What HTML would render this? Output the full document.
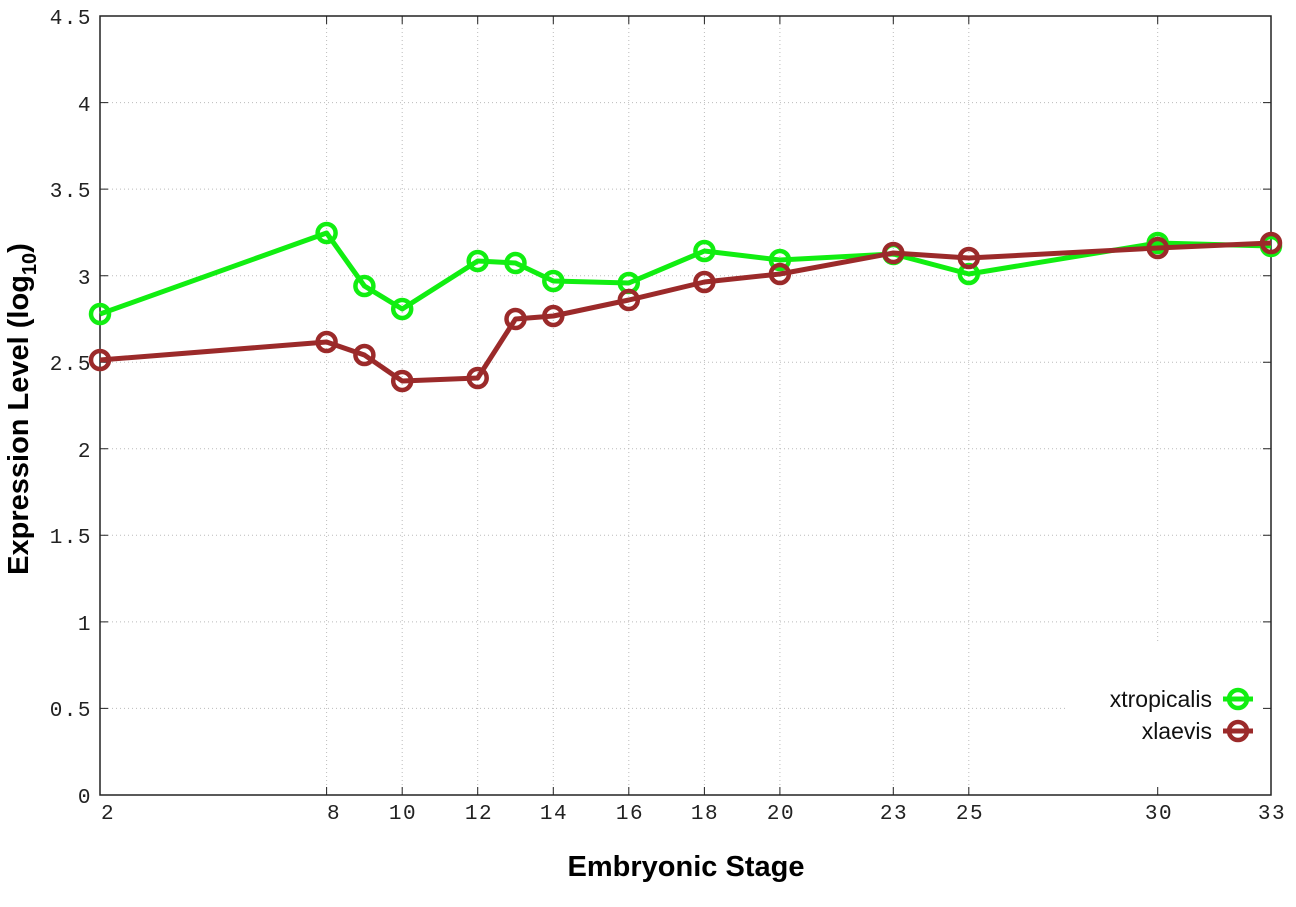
<!DOCTYPE html>
<html><head><style>body{margin:0;background:#fff}svg{display:block}</style></head><body>
<svg width="1296" height="907" xmlns="http://www.w3.org/2000/svg">
<g stroke="#bbb" stroke-width="1" stroke-dasharray="1,3">
<line x1="100" x2="1271" y1="708.4" y2="708.4"/><line x1="100" x2="1271" y1="621.9" y2="621.9"/>
<line x1="100" x2="1271" y1="535.3" y2="535.3"/><line x1="100" x2="1271" y1="448.8" y2="448.8"/>
<line x1="100" x2="1271" y1="362.2" y2="362.2"/><line x1="100" x2="1271" y1="275.7" y2="275.7"/>
<line x1="100" x2="1271" y1="189.1" y2="189.1"/><line x1="100" x2="1271" y1="102.6" y2="102.6"/>
<line x1="326.6" x2="326.6" y1="16" y2="795"/><line x1="402.2" x2="402.2" y1="16" y2="795"/>
<line x1="477.7" x2="477.7" y1="16" y2="795"/><line x1="553.3" x2="553.3" y1="16" y2="795"/>
<line x1="628.8" x2="628.8" y1="16" y2="795"/><line x1="704.4" x2="704.4" y1="16" y2="795"/>
<line x1="779.9" x2="779.9" y1="16" y2="795"/><line x1="893.3" x2="893.3" y1="16" y2="795"/>
<line x1="968.8" x2="968.8" y1="16" y2="795"/><line x1="1157.7" x2="1157.7" y1="16" y2="795"/>
</g>
<rect x="1065" y="643" width="204" height="150" fill="#fff"/>
<rect x="100" y="16" width="1171" height="779" fill="none" stroke="#222" stroke-width="1.5"/>
<g stroke="#222" stroke-width="1">
<path d="M100 708.4h8M100 621.9h8M100 535.3h8M100 448.8h8M100 362.2h8M100 275.7h8M100 189.1h8M100 102.6h8M1271 708.4h-8M1271 621.9h-8M1271 535.3h-8M1271 448.8h-8M1271 362.2h-8M1271 275.7h-8M1271 189.1h-8M1271 102.6h-8"/>
<path d="M326.6 795v-8M402.2 795v-8M477.7 795v-8M553.3 795v-8M628.8 795v-8M704.4 795v-8M779.9 795v-8M893.3 795v-8M968.8 795v-8M1157.7 795v-8M326.6 16v8M402.2 16v8M477.7 16v8M553.3 16v8M628.8 16v8M704.4 16v8M779.9 16v8M893.3 16v8M968.8 16v8M1157.7 16v8"/>
</g>
<g font-family="Liberation Mono, monospace" font-size="21" fill="#222" letter-spacing="1.5">
<g text-anchor="end">
<text x="92" y="803">0</text><text x="92" y="716">0.5</text><text x="92" y="630">1</text><text x="92" y="543">1.5</text>
<text x="92" y="457">2</text><text x="92" y="370">2.5</text><text x="92" y="284">3</text><text x="92" y="197">3.5</text>
<text x="92" y="111">4</text><text x="92" y="24">4.5</text></g>
<g text-anchor="middle">
<text x="108" y="819">2</text><text x="334" y="819">8</text><text x="403" y="819">10</text><text x="479" y="819">12</text>
<text x="554" y="819">14</text><text x="630" y="819">16</text><text x="705" y="819">18</text><text x="781" y="819">20</text>
<text x="894" y="819">23</text><text x="970" y="819">25</text><text x="1159" y="819">30</text><text x="1272" y="819">33</text></g>
</g>
<text x="686" y="876" text-anchor="middle" font-family="Liberation Sans, sans-serif" font-weight="bold" font-size="29">Embryonic Stage</text>
<text transform="translate(28,409) rotate(-90)" text-anchor="middle" font-family="Liberation Sans, sans-serif" font-weight="bold" font-size="29">Expression Level (log<tspan font-size="20" dy="8">10</tspan><tspan dy="-8">)</tspan></text>
<g fill="none" stroke-width="5" stroke-linejoin="round">
<polyline stroke="#11ee11" points="100,314 326.6,233 364.4,286 402.2,309 477.7,261 515.5,263 553.3,281 628.8,283 704.4,251 779.9,260 893.3,254 968.8,274 1157.7,243 1271,246"/>
<g stroke="#11ee11" stroke-width="4.5">
<circle cx="100" cy="314" r="9"/><circle cx="326.6" cy="233" r="9"/><circle cx="364.4" cy="286" r="9"/><circle cx="402.2" cy="309" r="9"/><circle cx="477.7" cy="261" r="9"/><circle cx="515.5" cy="263" r="9"/><circle cx="553.3" cy="281" r="9"/><circle cx="628.8" cy="283" r="9"/><circle cx="704.4" cy="251" r="9"/><circle cx="779.9" cy="260" r="9"/><circle cx="893.3" cy="254" r="9"/><circle cx="968.8" cy="274" r="9"/><circle cx="1157.7" cy="243" r="9"/><circle cx="1271" cy="246" r="9"/></g>
<polyline stroke="#9b2a2a" points="100,360 326.6,342 364.4,355 402.2,381 477.7,378 515.5,319 553.3,316 628.8,300 704.4,282 779.9,274 893.3,253 968.8,258 1157.7,248 1271,243"/>
<g stroke="#9b2a2a" stroke-width="4.5">
<circle cx="100" cy="360" r="9"/><circle cx="326.6" cy="342" r="9"/><circle cx="364.4" cy="355" r="9"/><circle cx="402.2" cy="381" r="9"/><circle cx="477.7" cy="378" r="9"/><circle cx="515.5" cy="319" r="9"/><circle cx="553.3" cy="316" r="9"/><circle cx="628.8" cy="300" r="9"/><circle cx="704.4" cy="282" r="9"/><circle cx="779.9" cy="274" r="9"/><circle cx="893.3" cy="253" r="9"/><circle cx="968.8" cy="258" r="9"/><circle cx="1157.7" cy="248" r="9"/><circle cx="1271" cy="243" r="9"/></g>
<path stroke="#11ee11" d="M1223 699h30"/><circle stroke="#11ee11" stroke-width="4.5" cx="1238" cy="699" r="9"/>
<path stroke="#9b2a2a" d="M1223 731h30"/><circle stroke="#9b2a2a" stroke-width="4.5" cx="1238" cy="731" r="9"/>
</g>
<g font-family="Liberation Sans, sans-serif" font-size="23" fill="#111" text-anchor="end">
<text x="1212" y="707">xtropicalis</text><text x="1212" y="739">xlaevis</text></g>
</svg>
</body></html>
